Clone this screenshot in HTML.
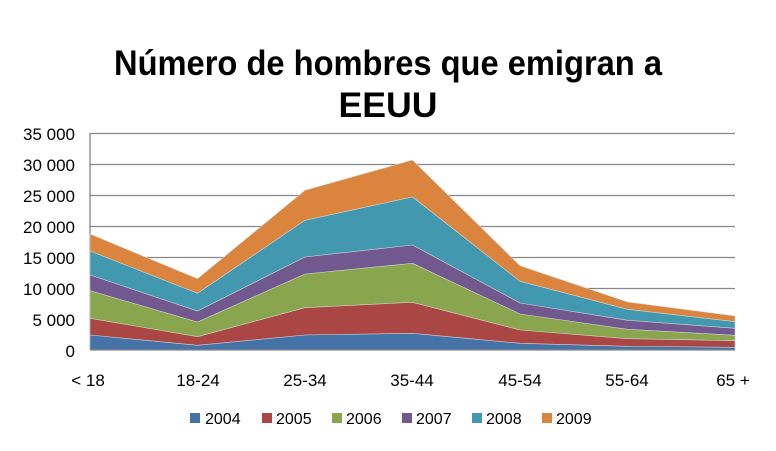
<!DOCTYPE html>
<html><head><meta charset="utf-8"><style>
html,body{margin:0;padding:0;background:#fff;}
svg{display:block;font-family:"Liberation Sans",sans-serif;}
</style></head><body>
<svg width="776" height="451" viewBox="0 0 776 451" xmlns="http://www.w3.org/2000/svg">
<rect width="776" height="451" fill="#fff"/>
<text x="388" y="75" font-size="35" font-weight="bold" text-anchor="middle" textLength="548" lengthAdjust="spacingAndGlyphs">Número de hombres que emigran a</text>
<text x="388" y="117" font-size="35" font-weight="bold" text-anchor="middle" textLength="99" lengthAdjust="spacingAndGlyphs">EEUU</text>
<g stroke="#868686" stroke-width="1.3">
<line x1="90" y1="133.5" x2="735" y2="133.5"/>
<line x1="90" y1="164.5" x2="735" y2="164.5"/>
<line x1="90" y1="195.5" x2="735" y2="195.5"/>
<line x1="90" y1="226.5" x2="735" y2="226.5"/>
<line x1="90" y1="257.5" x2="735" y2="257.5"/>
<line x1="90" y1="288.5" x2="735" y2="288.5"/>
<line x1="90" y1="319.5" x2="735" y2="319.5"/>
<line x1="90" y1="133" x2="90" y2="350"/>
</g>
<g stroke="#d8d8d8" stroke-width="0.6">
<polygon fill="#DB843D" points="90,234 197.5,278.7 305,190.3 412.5,160 520,265.7 627.5,302 735,316 735,350 90,350"/>
<polygon fill="#4198AF" points="90,251 197.5,293.3 305,220.3 412.5,197 520,281.3 627.5,309.3 735,321.7 735,350 90,350"/>
<polygon fill="#71588F" points="90,275 197.5,311 305,257 412.5,245 520,303 627.5,320.3 735,328.3 735,350 90,350"/>
<polygon fill="#89A54E" points="90,290.7 197.5,322 305,274 412.5,263.3 520,314 627.5,329.3 735,335.3 735,350 90,350"/>
<polygon fill="#AA4643" points="90,318.3 197.5,336.7 305,307.7 412.5,302.3 520,330 627.5,338.7 735,340.7 735,350 90,350"/>
<polygon fill="#4572A7" points="90,335 197.5,345.3 305,335 412.5,333.3 520,343.3 627.5,346.3 735,347.3 735,350 90,350"/>
</g>
<line x1="90" y1="350" x2="735" y2="350" stroke="#868686" stroke-width="1.3"/>
<g font-size="17" fill="#000" text-anchor="end">
<text x="75" y="140">35 000</text>
<text x="75" y="171">30 000</text>
<text x="75" y="202">25 000</text>
<text x="75" y="233">20 000</text>
<text x="75" y="264">15 000</text>
<text x="75" y="295">10 000</text>
<text x="75" y="326">5 000</text>
<text x="75" y="357">0</text>
</g>
<g font-size="17" fill="#000" text-anchor="middle">
<text x="88" y="386">&lt; 18</text>
<text x="198" y="386">18-24</text>
<text x="305" y="386">25-34</text>
<text x="412" y="386">35-44</text>
<text x="520" y="386">45-54</text>
<text x="627" y="386">55-64</text>
<text x="733" y="386">65 +</text>
</g>
<g font-size="16" fill="#000">
<rect x="190" y="413" width="10" height="10" fill="#4572A7"/><text x="205" y="424">2004</text>
<rect x="262" y="413" width="10" height="10" fill="#AA4643"/><text x="276" y="424">2005</text>
<rect x="332" y="413" width="10" height="10" fill="#89A54E"/><text x="346" y="424">2006</text>
<rect x="402" y="413" width="10" height="10" fill="#71588F"/><text x="416" y="424">2007</text>
<rect x="472" y="413" width="10" height="10" fill="#4198AF"/><text x="486" y="424">2008</text>
<rect x="542" y="413" width="10" height="10" fill="#DB843D"/><text x="556" y="424">2009</text>
</g>
</svg>
</body></html>
